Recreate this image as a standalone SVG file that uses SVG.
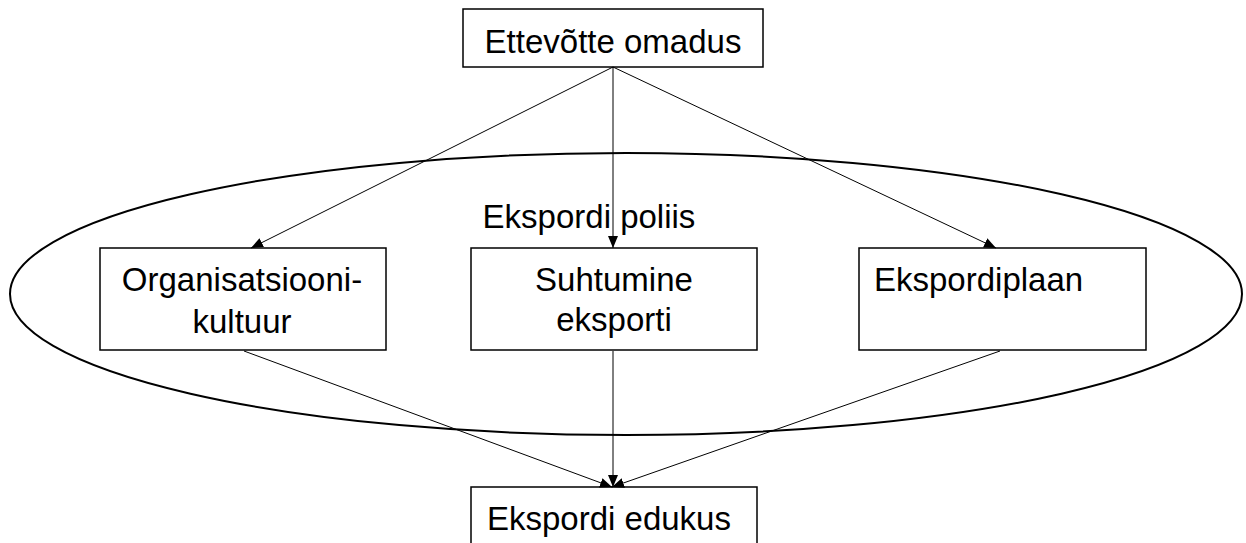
<svg xmlns="http://www.w3.org/2000/svg" width="1246" height="543" viewBox="0 0 1246 543">
<style>
.box{fill:#fff;stroke:#000;stroke-width:1.5}
.t{font-family:"Liberation Sans",Arial,sans-serif;font-size:33px;fill:#000}
.c{text-anchor:middle}
.edge{stroke:#000;stroke-width:1;fill:none;marker-end:url(#arr)}
</style>
<defs>
<marker id="arr" markerUnits="userSpaceOnUse" markerWidth="12" markerHeight="12" viewBox="0 0 12 12" refX="12" refY="6" orient="auto">
<path d="M0,1 L12,6 L0,11 Z" fill="#000"/>
</marker>
</defs>
<g id="policy">
<ellipse cx="626" cy="294" rx="616" ry="141" fill="none" stroke="#000" stroke-width="2"/>
<text class="t" x="589" y="228" text-anchor="middle">Ekspordi poliis</text>
</g>
<g id="n-top">
<rect class="box" x="463" y="9" width="300" height="58"/>
<text class="t c" x="613" y="53">Ettevõtte omadus</text>
</g>
<g id="n-org">
<rect class="box" x="100" y="248" width="286" height="102"/>
<text class="t c" x="242" y="291">Organisatsiooni-</text>
<text class="t c" x="242" y="333">kultuur</text>
</g>
<g id="n-suh">
<rect class="box" x="471" y="248" width="286" height="102"/>
<text class="t c" x="614" y="291">Suhtumine</text>
<text class="t c" x="614" y="331">eksporti</text>
</g>
<g id="n-plan">
<rect class="box" x="859" y="248" width="287" height="102"/>
<text class="t" x="874" y="291">Ekspordiplaan</text>
</g>
<g id="n-edu">
<rect class="box" x="471" y="487" width="286" height="70"/>
<text class="t" x="487" y="530">Ekspordi edukus</text>
</g>
<g id="connectors">
<line class="edge" x1="613" y1="67" x2="251" y2="248"/>
<line class="edge" x1="613" y1="67" x2="613" y2="248"/>
<line class="edge" x1="613" y1="67" x2="996" y2="248"/>
<line class="edge" x1="244" y1="351" x2="612" y2="487"/>
<line class="edge" x1="613" y1="351" x2="613" y2="487"/>
<line class="edge" x1="1000" y1="351" x2="612" y2="487"/>
</g>
</svg>
